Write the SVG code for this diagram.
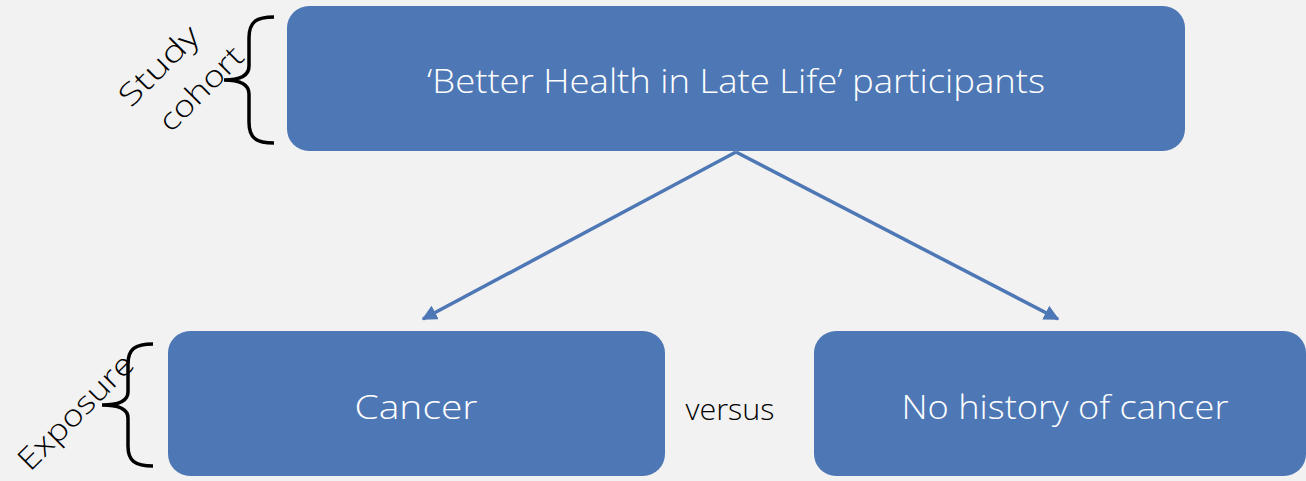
<svg xmlns="http://www.w3.org/2000/svg" width="1306" height="481" viewBox="0 0 1306 481">
<defs>
<style>
.box{fill:#4e78b5;}
.lbl{fill:#ffffff;font-family:"Open Sans","Liberation Sans",Arial,sans-serif;font-weight:300;font-size:33px;text-anchor:middle;dominant-baseline:central;}
.side{fill:#000000;font-family:"Open Sans","Liberation Sans",Arial,sans-serif;font-weight:300;font-size:30px;text-anchor:middle;dominant-baseline:central;}
.brace{fill:none;stroke:#000000;stroke-width:3.5;stroke-linecap:butt;}
.conn{stroke:#4e78b5;stroke-width:3.5;fill:none;}
</style>
<marker id="ah" viewBox="0 0 10 10" refX="9" refY="5" markerWidth="4.4" markerHeight="4.4" orient="auto" markerUnits="strokeWidth">
<path d="M0,0 L10,5 L0,10 z" fill="#4e78b5"/>
</marker>
</defs>
<rect width="1306" height="481" fill="#f2f2f2"/>
<g id="connectors">
<line class="conn" x1="736" y1="152" x2="423" y2="319" marker-end="url(#ah)"/>
<line class="conn" x1="736" y1="152" x2="1058" y2="319" marker-end="url(#ah)"/>
</g>
<g id="node-cohort">
<rect class="box" x="287" y="6" width="898" height="145" rx="22"/>
<text class="lbl" x="736" y="80" textLength="618" lengthAdjust="spacingAndGlyphs">‘Better Health in Late Life’ participants</text>
</g>
<g id="node-cancer">
<rect class="box" x="168" y="331" width="497" height="145" rx="22"/>
<text class="lbl" x="416" y="406" textLength="123" lengthAdjust="spacingAndGlyphs">Cancer</text>
</g>
<g id="node-nocancer">
<rect class="box" x="814" y="331" width="492" height="145" rx="22"/>
<text class="lbl" x="1065" y="406" textLength="327" lengthAdjust="spacingAndGlyphs">No history of cancer</text>
</g>
<g id="versus">
<text class="side" x="730" y="408" font-size="26" textLength="89" lengthAdjust="spacingAndGlyphs">versus</text>
</g>
<g id="label-study-cohort">
<path class="brace" d="M274,17 C256,17 249,22 249,38 L249,66 C249,76 240,80 224,80 C240,80 249,84 249,94 L249,122 C249,138 256,143 274,143"/>
<text class="side" transform="translate(158,65) rotate(-45)" textLength="100" lengthAdjust="spacingAndGlyphs">Study</text>
<text class="side" transform="translate(200,88) rotate(-45)" textLength="106" lengthAdjust="spacingAndGlyphs">cohort</text>
</g>
<g id="label-exposure">
<path class="brace" d="M153,344 C135,344 128,349 128,364 L128,392 C128,401 119,405 102,405 C119,405 128,409 128,418 L128,446 C128,461 135,466 153,466"/>
<text class="side" transform="translate(75,411) rotate(-45)" font-size="29" textLength="150" lengthAdjust="spacingAndGlyphs">Exposure</text>
</g>
</svg>
